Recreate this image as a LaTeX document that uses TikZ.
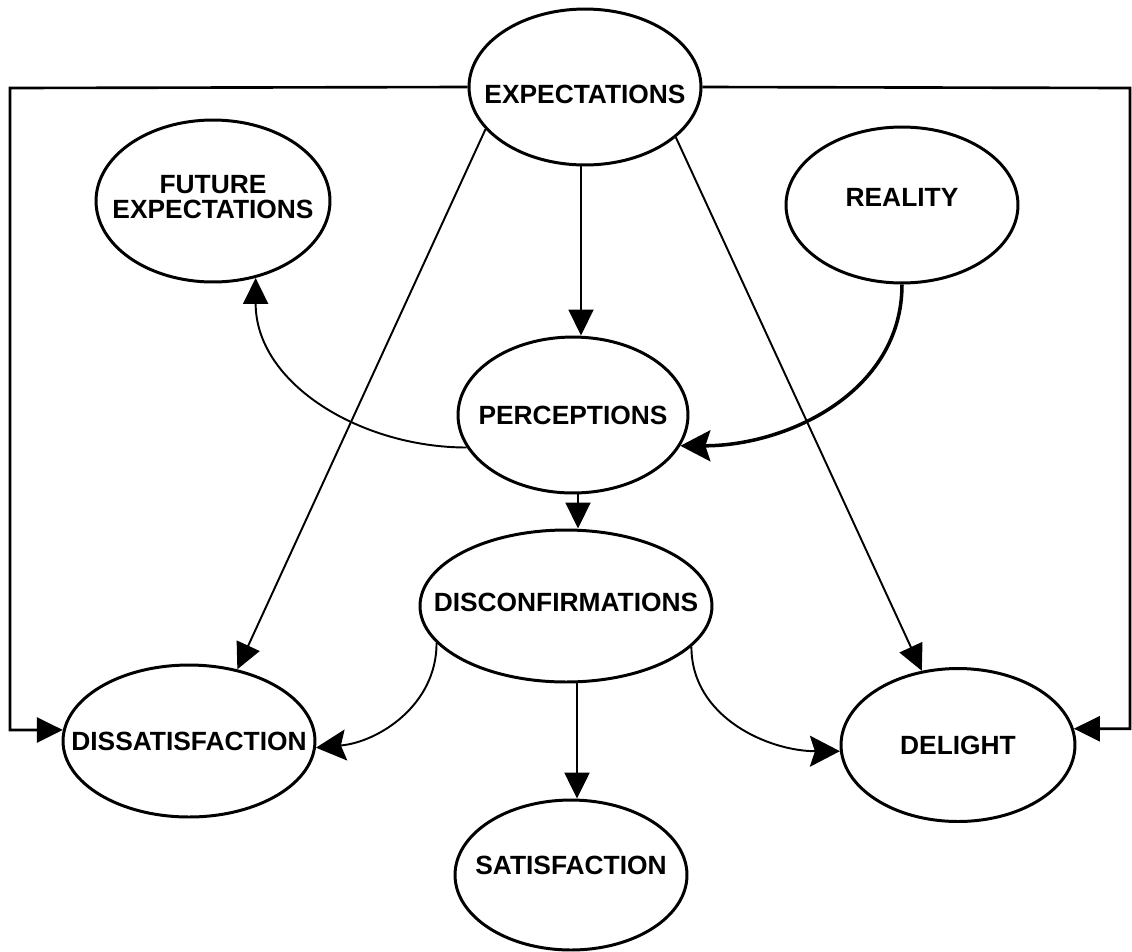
\documentclass[tikz,border=0pt]{standalone}
\usepackage{fontspec}
\setmainfont{Liberation Sans}
\usetikzlibrary{shapes.geometric,arrows.meta}

\begin{document}
\begin{tikzpicture}[x=0.02cm,y=-0.02cm,
  state/.style={draw, ellipse, line width=1.7pt, inner sep=0pt},
  lab/.style={font=\bfseries\fontsize{15}{14.5}\selectfont, align=center, inner sep=0pt},
  link/.style={line width=1.1pt},
  tri/.style={-{Triangle[length=0.52cm,width=0.5cm]}},
  stl/.style={-{Stealth[length=0.6cm,width=0.62cm,inset=0.1cm]}}
]
\useasboundingbox (0,0) rectangle (1132,951);

% states
\node[state, minimum width=4.64cm, minimum height=3.12cm,
      label={[lab,yshift=-0.14cm]center:EXPECTATIONS}] (exp) at (585,87) {};
\node[state, minimum width=4.68cm, minimum height=3.24cm,
      label={[lab,yshift=0.08cm]center:{FUTURE\\EXPECTATIONS}}] (fut) at (213,201) {};
\node[state, minimum width=4.64cm, minimum height=3.12cm,
      label={[lab,yshift=0.16cm]center:REALITY}] (real) at (902,205) {};
\node[state, minimum width=4.60cm, minimum height=3.12cm,
      label={[lab]center:PERCEPTIONS}] (perc) at (573,415) {};
\node[state, minimum width=5.84cm, minimum height=3.04cm,
      label={[lab,yshift=0.08cm]center:DISCONFIRMATIONS}] (disc) at (566,606) {};
\node[state, minimum width=5.04cm, minimum height=3.04cm,
      label={[lab]center:DISSATISFACTION}] (dissat) at (189,741) {};
\node[state, minimum width=4.68cm, minimum height=3.06cm,
      label={[lab]center:DELIGHT}] (delight) at (958,745) {};
\node[state, minimum width=4.64cm, minimum height=3.00cm,
      label={[lab,yshift=0.2cm]center:SATISFACTION}] (sat) at (571,875) {};

% helper points for the straight runs
\coordinate (v1) at (581,0);
\coordinate (v2) at (578,0);
\coordinate (v3) at (577,0);
\coordinate (lt) at (10,88);
\coordinate (rt) at (1130,88);

% vertical chain
\draw[link,tri] (exp.south -| v1) -- (perc.north -| v1);
\draw[link,tri] (perc.south -| v2) -- (disc.north -| v2);
\draw[line width=1.4pt,tri] (disc.south -| v3) -- (sat.north -| v3);

% diagonals from expectations
\draw[link,tri] (exp.203) -- (dissat.56);
\draw[link,tri] (exp.331) -- (delight.116);

% outer frame
\draw[line width=1.5pt,tri] (exp.west) -- (lt) |- (dissat.175);
\draw[line width=1.5pt,tri] (exp.east) -- (rt) |- (delight.8);

% feedback and reality curves
\draw[link,tri] (perc.197) to[out=180,in=270] (fut.299);
\draw[line width=2pt,stl] (real.south) to[out=270,in=0] (perc.344);

% disconfirmation outcomes
\draw[link,stl] (disc.196) to[out=270,in=5] (dissat.357);
\draw[link,stl] (disc.342) to[out=270,in=180] (delight.183);
\end{tikzpicture}
\end{document}
